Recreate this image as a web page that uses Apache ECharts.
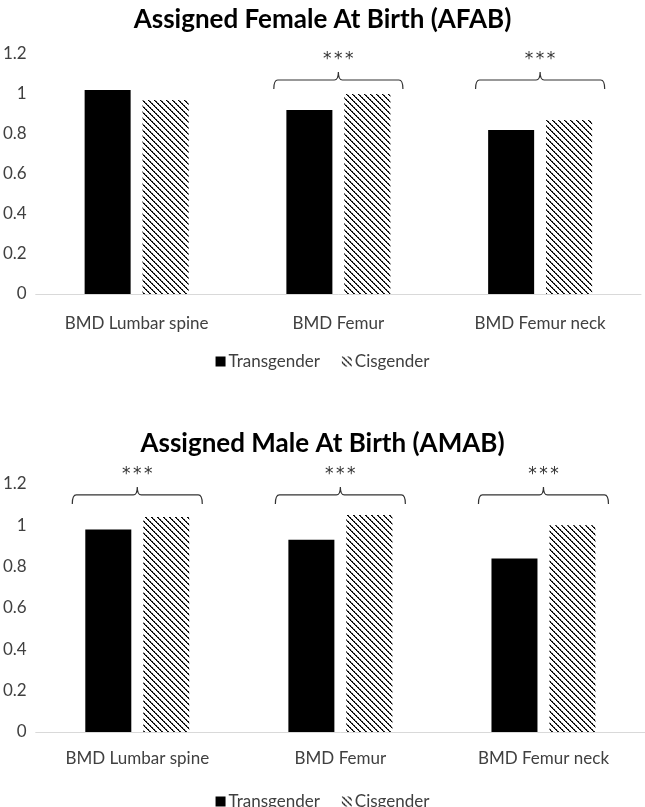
<!DOCTYPE html>
<html><head><meta charset="utf-8">
<script src="https://cdn.jsdelivr.net/npm/echarts@6.0.0/dist/echarts.min.js"></script>
<style>html,body{margin:0;padding:0;background:#fff}#c{width:645px;height:807px}</style>
</head><body><div id="c"></div>
<script>
// ---- data ----
const categories = ['BMD Lumbar spine', 'BMD Femur', 'BMD Femur neck'];
const seriesNames = ['Transgender', 'Cisgender'];
const afabTransgender = [1.02, 0.92, 0.82];
const afabCisgender = [0.97, 1.00, 0.87];
const amabTransgender = [0.98, 0.93, 0.84];
const amabCisgender = [1.04, 1.05, 1.00];
const afabSignificance = ['', '***', '***'];
const amabSignificance = ['***', '***', '***'];
const yTickMin = 0, yTickMax = 1.2, yTickStep = 0.2;
const chartTitles = ['Assigned Female At Birth (AFAB)', 'Assigned Male At Birth (AMAB)'];

// ---- style ----
const FONT = 'Lato, "Open Sans", sans-serif';
const TXT = '#404040';
const bracketLevels = [1.07, 1.147];

function hatchPattern() {
  const s = 6, c = document.createElement('canvas');
  c.width = s; c.height = s;
  const g = c.getContext('2d');
  g.fillStyle = '#fff'; g.fillRect(0, 0, s, s);
  for (let i = 0; i < s; i++) {
    g.fillStyle = '#000'; g.fillRect(i, i, 1, 1);
    g.fillStyle = (i % 2) ? '#222' : '#888'; g.fillRect((i + 1) % s, i, 1, 1);
  }
  return { image: c, repeat: 'repeat' };
}
const hatch = hatchPattern();

function bracketRender(params, api) {
  const idx = api.value(0), level = api.value(1);
  const p = api.coord([idx, level]);
  const bw = api.size([1, 0])[0];
  const half = bw * 0.32, cx = p[0], y = p[1];
  const drop = 9, peak = 8, r = 4;
  const l = cx - half, rr = cx + half;
  const d = `M${l},${y + drop} Q${l},${y} ${l + r},${y} L${cx - r},${y} Q${cx},${y} ${cx},${y - peak} Q${cx},${y} ${cx + r},${y} L${rr - r},${y} Q${rr},${y} ${rr},${y + drop}`;
  const label = String(api.value(2));
  const n = label.length, step = 11;
  const children = [
    { type: 'path', shape: { pathData: d }, style: { fill: 'none', stroke: '#333', lineWidth: 1.2 } }
  ];
  for (let i = 0; i < n; i++) {
    children.push({
      type: 'text', x: cx + (i - (n - 1) / 2) * step, y: y - peak - 12,
      style: { text: label[i], fill: '#333', font: '17px "DejaVu Sans"', align: 'center', verticalAlign: 'middle' }
    });
  }
  return { type: 'group', children };
}
function bracketData(sig, level) {
  return sig.map((s, i) => [i, level, s]).filter(d => d[2]);
}

const grids = [
  { left: 33, right: 4, top: 54, height: 240 },
  { left: 32, right: 0, top: 484, height: 248 }
];
const groups = [
  [afabTransgender, afabCisgender, afabSignificance],
  [amabTransgender, amabCisgender, amabSignificance]
];

const option = {
  animation: false,
  backgroundColor: '#fff',
  title: [
    { text: chartTitles[0], left: 'center', top: 2, textStyle: { fontFamily: FONT, fontSize: 26, fontWeight: 'bold', color: '#000' } },
    { text: chartTitles[1], left: 'center', top: 426, textStyle: { fontFamily: FONT, fontSize: 26, fontWeight: 'bold', color: '#000' } }
  ],
  legend: [0, 1].map(k => ({
    data: seriesNames.map(n => ({ name: n, icon: 'rect' })),
    left: 'center', top: k === 0 ? 348 : 788,
    itemWidth: 10, itemHeight: 10, itemGap: 22,
    textStyle: { fontFamily: FONT, fontSize: 17, color: TXT, padding: [0, 0, 0, -2] },
    selectedMode: false
  })),
  grid: grids,
  xAxis: [0, 1].map(k => ({
    gridIndex: k, type: 'category', data: categories,
    axisLine: { lineStyle: { color: '#d9d9d9', width: 1 } },
    axisTick: { show: false },
    axisLabel: { fontFamily: FONT, fontSize: 17, color: TXT, margin: k === 0 ? 21 : 18 }
  })),
  yAxis: [0, 1].map(k => ({
    gridIndex: k, type: 'value', min: yTickMin, max: yTickMax, interval: yTickStep,
    axisLine: { show: false }, axisTick: { show: false }, splitLine: { show: false },
    axisLabel: { fontFamily: FONT, fontSize: 17, color: TXT, margin: 9 }
  })),
  series: []
};
groups.forEach((g, k) => {
  option.series.push({
    type: 'bar', name: seriesNames[0], xAxisIndex: k, yAxisIndex: k, data: g[0],
    barWidth: 46, barGap: '26%', itemStyle: { color: '#000' }
  });
  option.series.push({
    type: 'bar', name: seriesNames[1], xAxisIndex: k, yAxisIndex: k, data: g[1],
    barWidth: 46, barGap: '26%', itemStyle: { color: hatch }
  });
  option.series.push({
    type: 'custom', xAxisIndex: k, yAxisIndex: k, clip: false, silent: true,
    data: bracketData(g[2], bracketLevels[k]),
    encode: { x: 0, y: 1 },
    renderItem: bracketRender
  });
});

const chart = echarts.init(document.getElementById('c'), null, { renderer: 'canvas' });
chart.setOption(option);
</script></body></html>
